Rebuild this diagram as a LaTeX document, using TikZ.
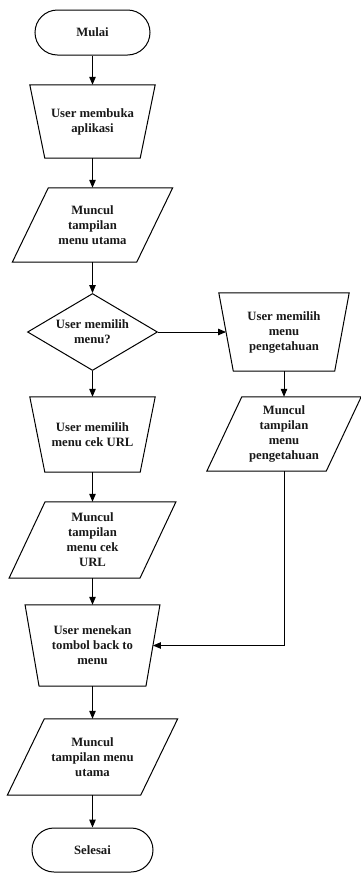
\documentclass[tikz,border=0pt]{standalone}
\usepackage{fontspec}
\setmainfont{Liberation Serif}
\usetikzlibrary{shapes.geometric,shapes.misc,arrows.meta,calc}
% manual-operation outline around a rectangle node: #1 name, #2 half of the top/bottom difference
\newcommand\drawmanop[2]{%
  \draw[outl] ($(#1.north west)+(-#2,0)$) -- ($(#1.north east)+(#2,0)$)
    -- ($(#1.south east)+(-#2,0)$) -- ($(#1.south west)+(#2,0)$) -- cycle;}
% parallelogram outline around a rectangle node: #1 name, #2 shift of the top edge
\newcommand\drawiobox[2]{%
  \draw[outl] ($(#1.north west)+(#2,0)$) -- ($(#1.north east)+(#2,0)$)
    -- ($(#1.south east)+(-#2,0)$) -- ($(#1.south west)+(-#2,0)$) -- cycle;}
\begin{document}
\begin{tikzpicture}[x=1pt,y=-1pt,
  txt/.style={font={\fontsize{12.7}{15}\selectfont\bfseries}, align=center, text=black!90},
  box/.style={txt, rectangle, draw=none, inner sep=0pt},
  outl/.style={draw=black, line width=1pt, line join=miter},
  term/.style={txt, rounded rectangle, draw=black, line width=1pt, inner sep=0pt},
  dec/.style={txt, diamond, draw=black, line width=1pt, inner sep=0pt, aspect=1.69},
  arr/.style={-{Triangle[length=8pt,width=6.5pt]}, line width=1pt, draw=black}]
\fill[white] (0,0) rectangle (361,873);
\useasboundingbox (0,0) rectangle (361,873);

\node[term, minimum width=115pt, minimum height=45pt] (mulai) at (92.5,32.5) {Mulai};

\node[box, minimum width=110pt, minimum height=73pt] (t1) at (92.5,121.5) {User membuka\\aplikasi};
\drawmanop{t1}{7.5pt}

\node[box, minimum width=124pt, minimum height=74pt] (p1) at (92.5,225) {Muncul\\tampilan\\menu utama};
\drawiobox{p1}{18pt}

\node[dec, minimum width=130pt, minimum height=77pt] (d) at (92.5,332) {User memilih\\menu?};

\node[box, minimum width=115.5pt, minimum height=78pt] (t2) at (284,332) {User memilih\\menu\\pengetahuan};
\drawmanop{t2}{7.25pt}

\node[box, minimum width=119pt, minimum height=74pt] (p2) at (284,434) {Muncul\\tampilan\\menu\\pengetahuan};
\drawiobox{p2}{17.5pt}

\node[box, minimum width=110pt, minimum height=75pt] (t3) at (92.5,434.5) {User memilih\\menu cek URL};
\drawmanop{t3}{7.5pt}

\node[box, minimum width=130.5pt, minimum height=76pt] (p3) at (92.5,540) {Muncul\\tampilan\\menu cek\\URL};
\drawiobox{p3}{18pt}

\node[box, minimum width=120.5pt, minimum height=81pt] (t4) at (92.5,645.5) {User menekan\\tombol back to\\menu};
\drawmanop{t4}{7pt}

\node[box, minimum width=133pt, minimum height=76pt] (p4) at (92.5,757) {Muncul\\tampilan menu\\utama};
\drawiobox{p4}{18.5pt}

\node[term, minimum width=121pt, minimum height=44pt] (selesai) at (92.5,850) {Selesai};

\draw[arr] (mulai.south) -- (t1.north);
\draw[arr] (t1.south) -- (p1.north);
\draw[arr] (p1.south) -- (d.north);
\draw[arr] (d.east) -- (t2.west);
\draw[arr] (t2.south) -- (p2.north);
\draw[arr] (d.south) -- (t3.north);
\draw[arr] (t3.south) -- (p3.north);
\draw[arr] (p3.south) -- (t4.north);
\draw[arr] (p2.south) |- (t4.east);
\draw[arr] (t4.south) -- (p4.north);
\draw[arr] (p4.south) -- (selesai.north);
\end{tikzpicture}
\end{document}
